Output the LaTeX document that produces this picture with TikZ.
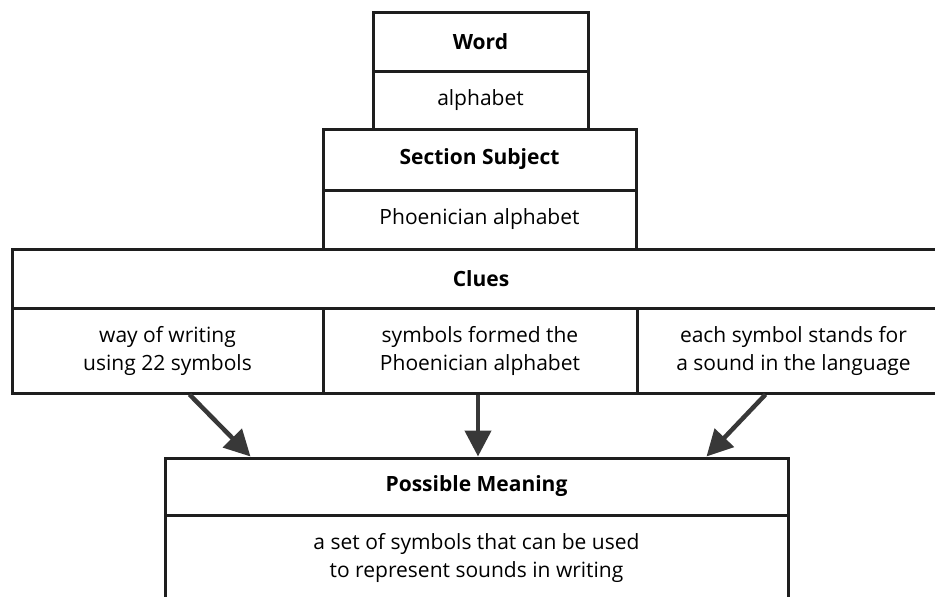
\documentclass[tikz,border=0pt]{standalone}
\usepackage{fontspec}
\setmainfont{Open Sans}
\usetikzlibrary{arrows.meta}
\definecolor{cardLine}{HTML}{1E1E1E}
\definecolor{cardArrow}{HTML}{383838}
\tikzset{
  cardfig/.style={
    x=1pt, y=-1pt,
    every node/.append style={font=\fontsize{21}{28}\selectfont},
  },
  cell/.style={
    draw=cardLine, line width=3pt, fill=white, align=center, inner sep=0pt,
  },
  headcell/.style={cell, font=\fontsize{21}{28}\selectfont\bfseries},
  hint/.style={draw=cardArrow, line width=4.5pt, -{Triangle[length=26pt, width=26pt]}},
}

\begin{document}
\begin{tikzpicture}[cardfig]
  \useasboundingbox (0,0) rectangle (935,597);
  \clip (0,0) rectangle (935,597);
  % Wort und Thema
  \node[headcell, minimum width=215pt, minimum height=59pt] (WordHead) at (480.5,41.5) {Word};
  \node[cell, minimum width=215pt, minimum height=58pt] (WordText) at (480.5,100) {alphabet};
  \node[headcell, minimum width=313pt, minimum height=61pt] (SubjHead) at (479.5,159.5) {Section Subject};
  \node[cell, minimum width=313pt, minimum height=59pt] (SubjText) at (479.5,219.5) {Phoenician alphabet};
  % Hinweise
  \node[headcell, minimum width=938pt, minimum height=59pt] (CluesHead) at (481,278.5) {Clues};
  \node[cell, minimum width=311pt, minimum height=85pt] (ClueA) at (167.5,350.5) {way of writing\\using 22 symbols};
  \node[cell, minimum width=314pt, minimum height=85pt] (ClueB) at (480,350.5) {symbols formed the\\Phoenician alphabet};
  \node[cell, minimum width=313pt, minimum height=85pt] (ClueC) at (793.5,350.5) {each symbol stands for\\a sound in the language};
  % Bedeutung
  \node[headcell, minimum width=623pt, minimum height=57pt] (MeanHead) at (476.5,486.5) {Possible Meaning};
  \node[cell, minimum width=623pt, minimum height=85pt] (MeanText) at (476.5,557.5) {a set of symbols that can be used\\to represent sounds in writing};
  \draw[hint] ([xshift=22pt]ClueA.south) -- ([xshift=-226pt]MeanHead.north);
  \draw[hint] ([xshift=-2pt]ClueB.south) -- ([xshift=1.5pt]MeanHead.north);
  \draw[hint] ([xshift=-28pt]ClueC.south) -- ([xshift=230pt]MeanHead.north);
\end{tikzpicture}
\end{document}
